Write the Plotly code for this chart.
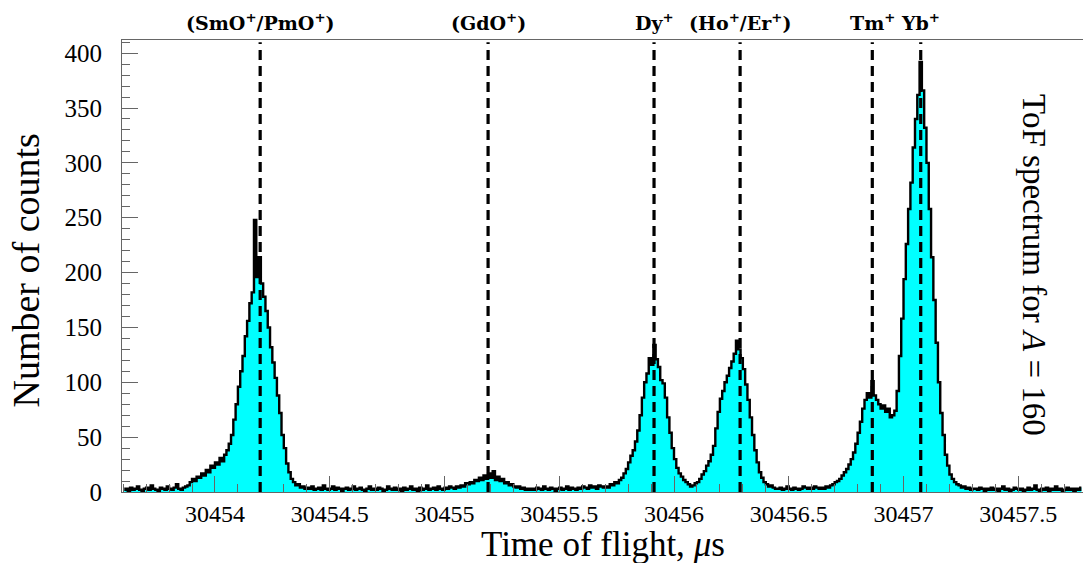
import plotly.graph_objects as go

# ---------------- data ----------------
tof_first_bin_center = 30453.605   # microseconds
bin_width = 0.01                   # microseconds

baseline_left = [2, 3, 1, 4, 2, 3, 5, 2, 1, 3, 4, 2, 6, 3, 2, 1, 4, 3, 2, 5, 3, 2, 4, 7, 3, 2, 4, 5]
smo_pmo_peak = [6, 9, 12, 10, 14, 13, 17, 15, 20, 18,
                24, 22, 27, 25, 31, 28, 34, 38, 44, 52,
                66, 80, 96, 110, 124, 142, 156, 172, 182, 248,
                196, 214, 190, 178, 165, 150, 132, 118, 104, 88,
                72, 52, 40, 26, 18, 12, 9, 6, 7, 4,
                5, 3]
baseline_mid1 = [4, 3, 5, 2, 3, 4, 2, 6, 3, 2,
                 3, 5, 2, 4, 3, 1, 3, 4, 2, 3,
                 5, 2, 3, 4, 2, 1, 3, 5, 2, 3,
                 2, 4, 3, 1, 2, 5, 3, 2, 4, 2,
                 3, 1, 4, 2, 3, 5, 2, 3, 1, 4,
                 2, 3, 6, 2, 3, 4, 2, 5, 3, 2,
                 4, 3, 5, 4]
gdo_peak = [3, 5, 4, 6, 5, 8, 7, 9, 8, 11,
            10, 13, 11, 15, 12, 17, 13, 19, 11, 14,
            10, 12, 8, 9, 6, 7, 5, 4, 5, 3,
            4, 2, 3, 2, 3]
baseline_mid2 = [2, 4, 3, 2, 5, 3, 2, 4, 3, 1,
                 3, 4, 2, 3, 5, 2, 4, 3, 2, 4,
                 3, 5, 4, 3, 6, 4, 5, 3, 6, 5, 4]
dy_ho_er_peaks = [5, 4, 7, 6, 9, 8, 11, 13, 17, 21,
                  27, 33, 38, 46, 56, 70, 86, 100, 108, 122,
                  116, 134, 121, 114, 102, 99, 86, 68, 54, 40,
                  30, 22, 17, 14, 11, 9, 7, 5, 6, 8,
                  9, 12, 16, 19, 24, 28, 34, 42, 58, 73,
                  85, 92, 100, 106, 113, 119, 126, 138, 130, 122,
                  112, 98, 84, 68, 52, 38, 27, 18, 13, 9,
                  7, 5, 6, 4, 3]
baseline_mid3 = [3, 4, 2, 3, 5, 3, 2, 4, 3, 2, 3, 5, 4, 3, 4, 3, 5, 4]
tm_yb_peaks = [3, 4, 3, 5, 4, 6, 7, 9, 10, 12,
               15, 18, 21, 25, 30, 36, 44, 54, 64, 76,
               84, 90, 86, 101, 88, 84, 80, 76, 79, 73,
               76, 68, 70, 74, 92, 124, 158, 194, 226, 258,
               282, 314, 340, 362, 392, 366, 332, 300, 258, 214,
               175, 136, 100, 72, 52, 34, 24, 16, 12, 9,
               7, 6, 4, 5, 3, 4, 2, 3]
baseline_right = [3, 2, 4, 3, 1, 3, 2, 4, 2, 3,
                  1, 3, 5, 2, 3, 1, 2, 4, 3, 2,
                  3, 1, 2, 4, 2, 3, 6, 2, 1, 3,
                  2, 4, 1, 3, 2, 5, 2, 3, 1, 2,
                  4, 2, 3, 1, 3, 2, 4]

peak_labels = ["(SmO<sup>+</sup>/PmO<sup>+</sup>)", "(GdO<sup>+</sup>)", "Dy<sup>+</sup>",
               "(Ho<sup>+</sup>/Er<sup>+</sup>)", "Tm<sup>+</sup>", "Yb<sup>+</sup>"]
peak_positions = [30454.197, 30455.19, 30455.913, 30456.288, 30456.864, 30457.075]

x_tick_values = [30454, 30454.5, 30455, 30455.5, 30456, 30456.5, 30457, 30457.5]
x_tick_labels = ["30454", "30454.5", "30455", "30455.5", "30456", "30456.5", "30457", "30457.5"]

# ---------------- build ----------------
counts = (baseline_left + smo_pmo_peak + baseline_mid1 + gdo_peak + baseline_mid2 +
          dy_ho_er_peaks + baseline_mid3 + tm_yb_peaks + baseline_right)
bin_centers = [tof_first_bin_center + i * bin_width for i in range(len(counts))]

FONT = "Liberation Serif"
LABEL_FONT = "DejaVu Serif"
AXIS_COLOR = "#666666"

fig = go.Figure()
fig.add_trace(go.Scatter(
    x=bin_centers, y=counts, mode="lines",
    line=dict(color="black", width=2.4, shape="hvh"),
    fill="tozeroy", fillcolor="#00FFFF",
    hoverinfo="skip", showlegend=False,
))

for pos, lab in zip(peak_positions, peak_labels):
    fig.add_shape(type="line", x0=pos, x1=pos, xref="x", yref="paper", y0=0, y1=0.995,
                  line=dict(color="black", width=3.2, dash="10px,6px"), layer="above")
    fig.add_annotation(x=pos, xref="x", xanchor="center", y=1, yref="paper",
                       yanchor="bottom", yshift=4,
                       text="<b>" + lab + "</b>", showarrow=False,
                       font=dict(family=LABEL_FONT, size=19, color="black"))

# axis titles and side label as annotations for precise placement
fig.add_annotation(x=0.5, xref="paper", xanchor="center", y=0, yref="paper",
                   yanchor="middle", yshift=-52.5, height=37, valign="middle",
                   text="Time of flight, <i>μ</i>s", showarrow=False,
                   font=dict(family=FONT, size=35, color="black"))
fig.add_annotation(x=0, xref="paper", xanchor="center", xshift=-96, y=0.49, yref="paper",
                   yanchor="middle",
                   text="Number of counts", textangle=-90, showarrow=False,
                   font=dict(family=FONT, size=38, color="black"))
fig.add_annotation(x=0.949, xref="paper", xanchor="center", y=0.502, yref="paper",
                   yanchor="middle",
                   text="ToF spectrum for <i>A</i> = 160", textangle=90, showarrow=False,
                   font=dict(family=FONT, size=33, color="black"))

fig.update_layout(
    width=1083, height=563,
    margin=dict(l=122, r=0, t=40, b=71),
    paper_bgcolor="white", plot_bgcolor="white",
    font=dict(family=FONT, color="black"),
    showlegend=False,
)
fig.update_xaxes(
    range=[30453.595, 30457.782],
    tickvals=x_tick_values, ticktext=x_tick_labels,
    ticks="inside", ticklen=16, tickwidth=1, tickcolor=AXIS_COLOR,
    minor=dict(tick0=30454, dtick=0.1, ticks="inside", ticklen=8, tickcolor=AXIS_COLOR, tickwidth=1),
    showline=True, linecolor=AXIS_COLOR, linewidth=1.2, mirror=True,
    showgrid=False, zeroline=False,
    tickfont=dict(family=FONT, size=24, color="black"),
)
fig.update_yaxes(
    range=[0, 412], dtick=50, tick0=0,
    ticks="inside", ticklen=16, tickwidth=1, tickcolor=AXIS_COLOR,
    minor=dict(tick0=0, dtick=10, ticks="inside", ticklen=8, tickcolor=AXIS_COLOR, tickwidth=1),
    showline=True, linecolor=AXIS_COLOR, linewidth=1.2,
    showgrid=False, zeroline=False,
    ticklabelstandoff=14,
    tickfont=dict(family=FONT, size=25, color="black"),
)

fig.write_html("out.html",
               config={"displayModeBar": False},
               post_script="document.body.style.margin='0px';document.body.style.overflow='hidden';")
